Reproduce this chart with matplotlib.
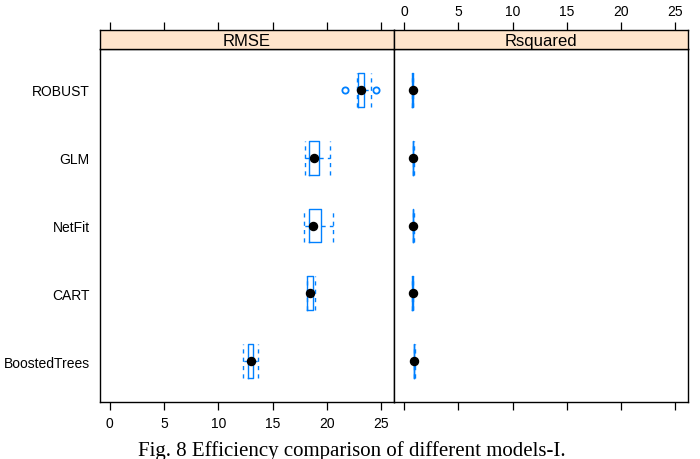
import matplotlib
matplotlib.use("Agg")
import matplotlib.pyplot as plt

# models, bottom to top as drawn
models = ["BoostedTrees", "CART", "NetFit", "GLM", "ROBUST"]

# RMSE five-number summaries
rmse_lo = [12.25, 18.15, 17.9, 18.0, 22.75]
rmse_q1 = [12.75, 18.2, 18.4, 18.4, 22.9]
rmse_med = [13.0, 18.45, 18.7, 18.8, 23.2]
rmse_q3 = [13.2, 18.75, 19.5, 19.25, 23.4]
rmse_hi = [13.7, 18.9, 20.6, 20.3, 24.1]
rmse_out = [[], [], [], [], [21.7, 24.5]]

# Rsquared is squeezed into a thin line at this scale
rsq_lo = [0.86, 0.72, 0.76, 0.76, 0.70]
rsq_q1 = [0.89, 0.75, 0.79, 0.79, 0.73]
rsq_med = [0.92, 0.77, 0.81, 0.81, 0.76]
rsq_q3 = [0.94, 0.79, 0.83, 0.83, 0.78]
rsq_hi = [0.97, 0.82, 0.86, 0.86, 0.81]
rsq_out = [[], [], [], [], []]

xticks = [0, 5, 10, 15, 20, 25]
blue = "#0080ff"
strip_col = "#ffe5cc"

plt.rcParams["font.family"] = ["Liberation Sans", "DejaVu Sans"]

W, H = 700, 460
fig = plt.figure(figsize=(7, 4.6), dpi=100)


def px_axes(x0, y0, x1, y1):
    # pixel box (top-left origin) -> figure axes
    return fig.add_axes([x0 / W, 1 - y1 / H, (x1 - x0) / W, (y1 - y0) / H])


def draw_panel(ax, lo, q1, med, q3, hi, out):
    stats = []
    for i in range(len(models)):
        stats.append(dict(whislo=lo[i], q1=q1[i], med=med[i], q3=q3[i],
                          whishi=hi[i], fliers=out[i]))
    pos = list(range(1, len(models) + 1))
    ax.bxp(stats, positions=pos, widths=0.5, capwidths=0.5,
           orientation="horizontal", showfliers=True,
           boxprops=dict(color=blue, lw=1.0),
           whiskerprops=dict(color=blue, lw=1.0, ls=(0, (3, 3))),
           capprops=dict(color=blue, lw=1.0, ls=(0, (3, 3))),
           medianprops=dict(visible=False),
           flierprops=dict(marker="o", mfc="none", mec=blue, ms=4.5, mew=1.3))
    ax.plot(med, pos, "o", color="black", ms=5.8, zorder=5)
    ax.set_xlim(-0.95, 26.2)
    ax.set_ylim(0.4, 5.6)
    ax.set_xticks(xticks)
    ax.tick_params(axis="x", direction="out", length=6, width=0.9,
                   labelsize=10, pad=4)
    for s in ax.spines.values():
        s.set_linewidth(1.0)


def draw_strip(ax, label, main_ax, labels_on_top):
    ax.set_facecolor(strip_col)
    ax.set_xlim(main_ax.get_xlim())
    ax.set_ylim(0, 1)
    ax.set_yticks([])
    ax.set_xticks(xticks)
    ax.xaxis.tick_top()
    ax.tick_params(axis="x", direction="out", length=6, width=0.9,
                   labelsize=10, pad=3, labeltop=labels_on_top)
    ax.text(0.5, 0.45, label, transform=ax.transAxes, ha="center",
            va="center", fontsize=12)
    for s in ax.spines.values():
        s.set_linewidth(1.0)


ax1 = px_axes(99.5, 50, 394, 403)
ax2 = px_axes(394, 50, 688, 403)
st1 = px_axes(99.5, 31, 394, 50)
st2 = px_axes(394, 31, 688, 50)

draw_panel(ax1, rmse_lo, rmse_q1, rmse_med, rmse_q3, rmse_hi, rmse_out)
draw_panel(ax2, rsq_lo, rsq_q1, rsq_med, rsq_q3, rsq_hi, rsq_out)

ax1.set_yticks(range(1, len(models) + 1))
ax1.set_yticklabels(models)
ax1.tick_params(axis="y", length=0, labelsize=10, pad=7)
ax2.set_yticks([])
ax2.tick_params(axis="x", labelbottom=False)

draw_strip(st1, "RMSE", ax1, False)
draw_strip(st2, "Rsquared", ax2, True)

fig.text(352 / W, 4 / H, "Fig. 8 Efficiency comparison of different models-I.",
         ha="center", va="baseline", fontsize=15,
         family=["Liberation Serif", "DejaVu Serif"])

fig.savefig("out.png", dpi=100)
